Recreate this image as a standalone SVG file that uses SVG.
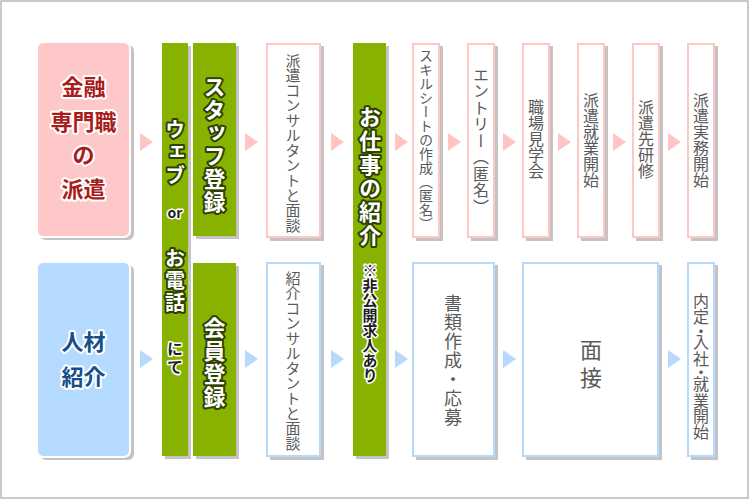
<svg xmlns="http://www.w3.org/2000/svg" width="750" height="500" viewBox="0 0 750 500">
<defs>
<style>
.frame{fill:#fff;stroke:#b8b8b8;stroke-width:1.5}
.sh{fill:#c4c4c4}
.green{fill:#87b200}
.pbox{fill:#fff;stroke:#ffc6c6;stroke-width:2}
.bbox{fill:#fff;stroke:#b6dafd;stroke-width:2}
.parr{fill:#ffc4c4}
.barr{fill:#b6dafd}
text{font-family:"Noto Sans CJK JP","Noto Sans",sans-serif}
.v{writing-mode:vertical-rl;text-anchor:middle}
.g{fill:#5a5a5a;font-size:15px}
.gt{fill:#fff;stroke:#2d4200;stroke-width:4;stroke-linejoin:round;paint-order:stroke;font-weight:700;font-size:21px}
.dt{fill:#1e1e1e;stroke:#fff;stroke-width:3;stroke-linejoin:round;paint-order:stroke;font-weight:700}
.ttl{stroke:#fff;stroke-width:4;stroke-linejoin:round;paint-order:stroke;font-weight:700;font-size:22px;text-anchor:middle;dominant-baseline:central}
</style>
</defs>
<rect class="frame" x="1" y="1" width="747" height="497"/>

<g id="connectors">
<polygon class="parr" points="140,133 153,142 140,151"/>
<polygon class="parr" points="245,133 258,142 245,151"/>
<polygon class="parr" points="331,133 344,142 331,151"/>
<polygon class="parr" points="395,133 408,142 395,151"/>
<polygon class="parr" points="448,133 461,142 448,151"/>
<polygon class="parr" points="503,133 516,142 503,151"/>
<polygon class="parr" points="558,133 571,142 558,151"/>
<polygon class="parr" points="613,133 626,142 613,151"/>
<polygon class="parr" points="668,133 681,142 668,151"/>
<polygon class="barr" points="140,350 153,359 140,368"/>
<polygon class="barr" points="245,350 258,359 245,368"/>
<polygon class="barr" points="331,350 344,359 331,368"/>
<polygon class="barr" points="395,350 408,359 395,368"/>
<polygon class="barr" points="503,350 516,359 503,368"/>
<polygon class="barr" points="668,350 681,359 668,368"/>
</g>

<g id="haken">
<rect class="sh" x="40" y="45" width="94" height="195" rx="6"/>
<rect x="37" y="42" width="93" height="195" rx="6" fill="#ffc8c8" stroke="#fff" stroke-width="2"/>
<text class="ttl" fill="#a81c1c" x="83.5" y="85">金融</text>
<text class="ttl" fill="#a81c1c" x="83.5" y="120">専門職</text>
<text class="ttl" fill="#a81c1c" x="83.5" y="153">の</text>
<text class="ttl" fill="#a81c1c" x="83.5" y="187">派遣</text>
</g>

<g id="jinzai">
<rect class="sh" x="40" y="265" width="94" height="195" rx="6"/>
<rect x="37" y="262" width="93" height="195" rx="6" fill="#b4daff" stroke="#fff" stroke-width="2"/>
<text class="ttl" fill="#174f8c" x="83.5" y="340">人材</text>
<text class="ttl" fill="#174f8c" x="83.5" y="375">紹介</text>
</g>

<g id="web">
<rect class="sh" x="165" y="46" width="26" height="413"/>
<rect class="green" x="162" y="43" width="26" height="413"/>
<text class="v gt" x="175" y="154" style="font-size:20px;letter-spacing:3px">ウェブ</text>
<text class="dt" x="175" y="218" style="font-size:14px;text-anchor:middle">or</text>
<text class="v gt" x="175" y="281" style="font-size:20px;letter-spacing:2px">お電話</text>
<text class="v dt" x="175" y="359" style="font-size:16px;letter-spacing:2px">にて</text>
</g>

<g id="staff">
<rect class="sh" x="196" y="46" width="43" height="193"/>
<rect class="green" x="193" y="43" width="43" height="193"/>
<text class="v gt" x="214.5" y="145" style="font-size:22px;letter-spacing:1px">スタッフ登録</text>
</g>

<g id="kaiin">
<rect class="sh" x="196" y="266" width="43" height="193"/>
<rect class="green" x="193" y="263" width="43" height="193"/>
<text class="v gt" x="214.5" y="363" style="font-size:22px;letter-spacing:1px">会員登録</text>
</g>

<g id="consul-top">
<rect class="sh" x="270" y="46" width="54" height="195"/>
<rect class="pbox" x="267" y="44" width="53" height="193"/>
<text class="v g" x="293" y="143">派遣コンサルタントと面談</text>
</g>

<g id="consul-bottom">
<rect class="sh" x="270" y="265" width="54" height="195"/>
<rect class="bbox" x="267" y="263" width="53" height="193"/>
<text class="v g" x="293" y="361">紹介コンサルタントと面談</text>
</g>

<g id="shoukai">
<rect class="sh" x="356" y="46" width="33" height="413"/>
<rect class="green" x="353" y="43" width="33" height="413"/>
<text class="v gt" x="370" y="177" style="font-size:22px;letter-spacing:1.7px">お仕事の紹介</text>
<text class="v dt" x="370" y="323" style="font-size:15px">※非公開求人あり</text>
</g>

<g id="skill">
<rect class="sh" x="416" y="46" width="27" height="195"/>
<rect class="pbox" x="413" y="44" width="26" height="193"/>
<text class="v g" x="426" y="140" style="font-size:14px">スキルシートの作成（匿名）</text>
</g>

<g id="entry">
<rect class="sh" x="471" y="46" width="27" height="195"/>
<rect class="pbox" x="468" y="44" width="26" height="193"/>
<text class="v g" x="481" y="141" style="font-size:16px;letter-spacing:0.5px">エントリー（匿名）</text>
</g>

<g id="kengaku">
<rect class="sh" x="526" y="46" width="27" height="195"/>
<rect class="pbox" x="523" y="44" width="26" height="193"/>
<text class="v g" x="536" y="139" style="font-size:16px">職場見学会</text>
</g>

<g id="shugyo">
<rect class="sh" x="581" y="46" width="27" height="195"/>
<rect class="pbox" x="578" y="44" width="26" height="193"/>
<text class="v g" x="591" y="140" style="font-size:16px">派遣就業開始</text>
</g>

<g id="kenshu">
<rect class="sh" x="636" y="46" width="27" height="195"/>
<rect class="pbox" x="633" y="44" width="26" height="193"/>
<text class="v g" x="646" y="139" style="font-size:16px">派遣先研修</text>
</g>

<g id="jitsumu">
<rect class="sh" x="691" y="46" width="27" height="195"/>
<rect class="pbox" x="688" y="44" width="26" height="193"/>
<text class="v g" x="701" y="140" style="font-size:16px">派遣実務開始</text>
</g>

<g id="shorui">
<rect class="sh" x="416" y="265" width="82" height="195"/>
<rect class="bbox" x="413" y="263" width="81" height="193"/>
<text class="v g" x="453" y="361" style="font-size:18px;letter-spacing:1px">書類作成・応募</text>
</g>

<g id="mensetsu">
<rect class="sh" x="526" y="265" width="136" height="195"/>
<rect class="bbox" x="523" y="263" width="135" height="193"/>
<text class="v g" x="591" y="367" style="font-size:22px;letter-spacing:6px">面接</text>
</g>

<g id="naitei">
<rect class="sh" x="691" y="265" width="27" height="195"/>
<rect class="bbox" x="688" y="263" width="26" height="193"/>
<text class="g" x="701 701 701 701 701 701 701 701 701 701" y="300 316 329.5 340.5 357.5 370.5 382.5 399.5 415 430.5" style="font-size:16px;text-anchor:middle;dominant-baseline:central">内定・入社・就業開始</text>
</g>
</svg>
